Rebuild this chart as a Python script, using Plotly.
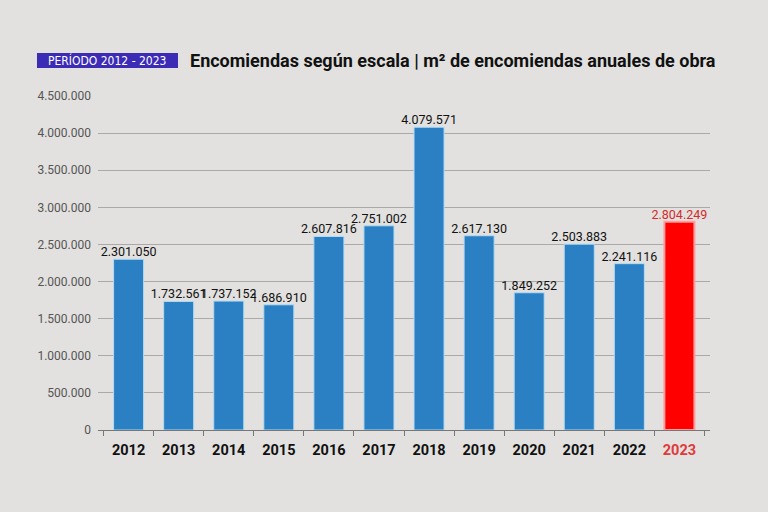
import plotly.graph_objects as go

years = ["2012", "2013", "2014", "2015", "2016", "2017", "2018", "2019", "2020", "2021", "2022", "2023"]
values = [2301050, 1732561, 1737152, 1686910, 2607816, 2751002, 4079571, 2617130, 1849252, 2503883, 2241116, 2804249]
y_ticks = [0, 500000, 1000000, 1500000, 2000000, 2500000, 3000000, 3500000, 4000000, 4500000]

BLUE = "#2a80c3"
RED = "#ff0000"
BG = "#e2e1df"
COND = "DejaVu Sans Condensed, Roboto, sans-serif"
ROBOTO = "Roboto, sans-serif"

colors = [BLUE] * (len(years) - 1) + [RED]
halo = ["#b5dcf3"] * (len(years) - 1) + ["#ff9c9c"]
halo_w = [1] * (len(years) - 1) + [2]
text_colors = ["#111111"] * (len(years) - 1) + ["#d42a2a"]
ticktext = [f"<b>{y}</b>" for y in years[:-1]] + [f"<b><span style='color:#e0393b'>{years[-1]}</span></b>"]

fig = go.Figure()
fig.add_trace(go.Bar(
    x=years, y=values,
    marker=dict(color=colors, line=dict(width=halo_w, color=halo)),
    hoverinfo="skip",
))
fig.add_trace(go.Scatter(
    x=years, y=values, mode="text",
    text=[f"{v:,}".replace(",", ".") for v in values],
    textposition="top center",
    textfont=dict(family=ROBOTO, size=12.5, color=text_colors),
    cliponaxis=False, hoverinfo="skip",
))

fig.update_layout(
    width=768, height=512,
    paper_bgcolor=BG, plot_bgcolor=BG,
    margin=dict(l=98, r=58, t=96, b=82),
    separators=",.",
    bargap=0.4,
    showlegend=False,
    xaxis=dict(
        tickvals=years, ticktext=ticktext,
        tickfont=dict(family=ROBOTO, size=14.5, color="#111111"),
        ticks="outside", tickson="boundaries", ticklen=5, tickcolor="#777777",
        showline=True, linecolor="#777777", linewidth=1,
        showgrid=False, ticklabelstandoff=7,
    ),
    yaxis=dict(
        range=[0, 4500000], tickvals=y_ticks, tickformat=",d",
        tickfont=dict(family=ROBOTO, size=12, color="#555555"),
        showgrid=True, gridcolor="#a9a9a9", gridwidth=1,
        zeroline=False, ticks="", ticklabelstandoff=6,
    ),
    shapes=[dict(type="rect", xref="paper", yref="paper",
                 x0=-0.0997, x1=0.1307, y0=1.084, y1=1.129,
                 fillcolor="#3c2bb5", line=dict(width=0))],
    annotations=[
        dict(text="PERÍODO 2012 - 2023", xref="paper", yref="paper",
             x=0.0155, y=1.1065, xanchor="center", yanchor="middle", showarrow=False,
             font=dict(family=COND, size=12, color="white")),
        dict(text="<b>Encomiendas según escala | m² de encomiendas anuales de obra</b>", xref="paper", yref="paper",
             x=0.147, y=1.1065, xanchor="left", yanchor="middle", showarrow=False,
             font=dict(family=ROBOTO, size=18, color="#111111")),
    ],
)

fig.write_html("out.html", config={"displayModeBar": False},
               post_script="document.body.style.margin='0';document.body.style.padding='0';")
